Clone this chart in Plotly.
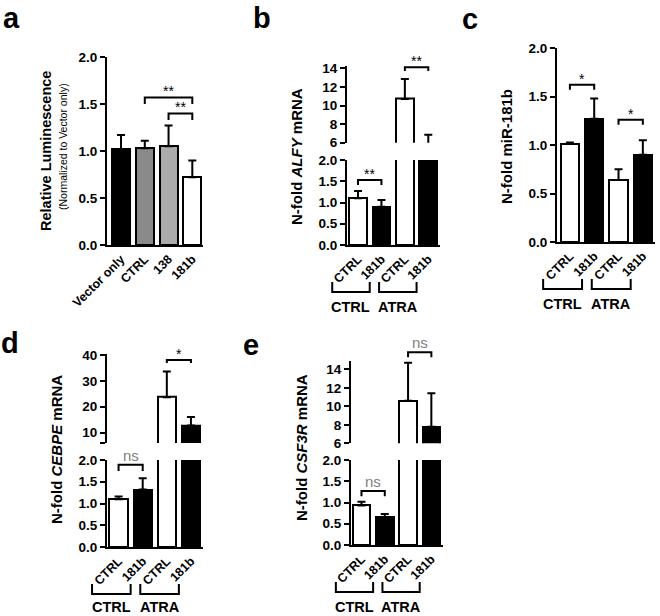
import plotly.graph_objects as go

W, H = 660, 616
FONT = "Liberation Sans"

# ---------------- data ----------------
a_labels = ["Vector only", "CTRL", "138", "181b"]
a_vals = [1.02, 1.03, 1.05, 0.72]
a_errs = [0.15, 0.08, 0.22, 0.18]
a_fill = ["#000000", "#8a8a8a", "#ababab", "#ffffff"]

pair_labels = ["CTRL", "181b", "CTRL", "181b"]
pair_fill = ["#ffffff", "#000000", "#ffffff", "#000000"]
group_labels = ["CTRL", "ATRA"]

b_vals = [1.10, 0.90, 10.7, 5.0]
b_errs = [0.17, 0.16, 2.15, 1.85]

c_vals = [1.01, 1.27, 0.64, 0.90]
c_errs = [0.015, 0.21, 0.11, 0.15]

d_vals = [1.10, 1.32, 23.7, 12.8]
d_errs = [0.06, 0.26, 9.9, 3.2]

e_vals = [0.93, 0.66, 10.6, 7.8]
e_errs = [0.09, 0.07, 4.1, 3.6]

lower_ticks = [0, 0.5, 1.0, 1.5, 2.0]
lower_text = ["0.0", "0.5", "1.0", "1.5", "2.0"]
b_upper_ticks = [6, 8, 10, 12, 14]
d_upper_ticks = [6, 10, 20, 30, 40]
d_upper_text = ["", "10", "20", "30", "40"]
e_upper_ticks = [6, 8, 10, 12, 14]

# ---------------- geometry helpers (pixel -> paper) ----------------
def dx(x0, x1):
    return [x0 / W, x1 / W]

def dy(top, bottom):
    return [1 - bottom / H, 1 - top / H]

def P(xpx, ypx):
    return xpx / W, 1 - ypx / H

# panel layout (pixels)
PAN = {
    "a": dict(x=(107, 203), xr=[-0.59, 3.45], y=[((57, 245), [0, 2.0])]),
    "b": dict(x=(347, 440), xr=[-0.47, 3.5], y=[((160, 245), [0, 2.0]), ((65.5, 142.7), [6, 14.3])]),
    "c": dict(x=(557, 655), xr=[-0.53, 3.5], y=[((48, 242), [0, 2.0])]),
    "d": dict(x=(107, 203), xr=[-0.48, 3.5], y=[((460, 547), [0, 2.0]), ((353.7, 443), [6, 40.5])]),
    "e": dict(x=(351, 443), xr=[-0.45, 3.5], y=[((460, 545), [0, 2.0]), ((361, 443.3), [6, 14.9])]),
}

def xp(pan, v):
    (x0, x1), r = PAN[pan]["x"], PAN[pan]["xr"]
    return (x0 + (v - r[0]) / (r[1] - r[0]) * (x1 - x0)) / W

def yp(pan, seg, v):
    (top, bot), r = PAN[pan]["y"][seg]
    ypx = bot - (v - r[0]) / (r[1] - r[0]) * (bot - top)
    return 1 - ypx / H

fig = go.Figure()
shapes = []
annos = []

axis_font = dict(family=FONT, size=13.5, color="black", weight="bold")
xtick_font = dict(family=FONT, size=12.5, color="black", weight="bold")
yax_common = dict(showline=True, linecolor="black", linewidth=2, ticks="outside",
                  ticklen=5, tickwidth=2, tickcolor="black", showgrid=False,
                  zeroline=False, tickfont=axis_font, fixedrange=True, automargin=False)
xax_common = dict(showline=True, linecolor="black", linewidth=2, ticks="",
                  showgrid=False, zeroline=False, tickangle=-45,
                  tickfont=xtick_font, fixedrange=True, automargin=False)

def add_bars(vals, errs, fills, xa, ya):
    fig.add_trace(go.Bar(
        x=list(range(len(vals))), y=vals, width=0.76,
        marker=dict(color=fills, line=dict(color="black", width=2)),
        error_y=dict(type="data", symmetric=False, array=errs,
                     arrayminus=[0] * len(vals), color="black",
                     thickness=2, width=4),
        xaxis=xa, yaxis=ya, showlegend=False, hoverinfo="skip"))

def sig(pan, seg, i0, i1, ytop, yleg, text, gray=False):
    x0, x1 = xp(pan, i0), xp(pan, i1)
    yt, yl = yp(pan, seg, ytop), yp(pan, seg, yleg)
    shapes.append(dict(type="path", xref="paper", yref="paper",
                       path=f"M {x0},{yl} L {x0},{yt} L {x1},{yt} L {x1},{yl}",
                       line=dict(color="black", width=2)))
    if gray:
        annos.append(dict(x=(x0 + x1) / 2, y=yt, xref="paper", yref="paper",
                          text=text, showarrow=False, xanchor="center",
                          yanchor="bottom", yshift=-1,
                          font=dict(family=FONT, size=15, color="#808080")))
    else:
        annos.append(dict(x=(x0 + x1) / 2, y=yt, xref="paper", yref="paper",
                          text=text, showarrow=False, xanchor="center",
                          yanchor="bottom", yshift=-4,
                          font=dict(family=FONT, size=14, color="black")))

def groups(pan):
    bot = PAN[pan]["y"][0][0][1]
    for g, (i0, i1) in enumerate([(0, 1), (2, 3)]):
        x0, x1 = xp(pan, i0 - 1.1), xp(pan, i1 - 0.5)
        _, ytop = P(0, bot + 37)
        _, ybot = P(0, bot + 47)
        shapes.append(dict(type="path", xref="paper", yref="paper",
                           path=f"M {x0},{ytop} L {x0},{ybot} L {x1},{ybot} L {x1},{ytop}",
                           line=dict(color="black", width=2)))
        _, yt = P(0, min(bot + 62, 607))
        annos.append(dict(x=(x0 + x1) / 2, y=yt, xref="paper", yref="paper",
                          text=f"<b>{group_labels[g]}</b>", showarrow=False,
                          xanchor="center", yanchor="middle",
                          font=dict(family=FONT, size=14.5, color="black")))

def ytitle(xpx, ypx, text, size=13):
    x, y = P(xpx, ypx)
    annos.append(dict(x=x, y=y, xref="paper", yref="paper", text=text,
                      textangle=-90, showarrow=False, xanchor="center", yanchor="middle",
                      font=dict(family=FONT, size=size, color="black")))

def letter(xpx, ypx, t):
    x, y = P(xpx, ypx)
    annos.append(dict(x=x, y=y, xref="paper", yref="paper", text=f"<b>{t}</b>",
                      showarrow=False, xanchor="left", yanchor="top",
                      font=dict(family=FONT, size=29, color="black")))

layout = {}

# ---- panel a ----
add_bars(a_vals, a_errs, a_fill, "x", "y")
layout["xaxis"] = dict(xax_common, domain=dx(*PAN["a"]["x"]), range=PAN["a"]["xr"],
                       anchor="y", tickvals=list(range(4)), ticktext=a_labels)
layout["yaxis"] = dict(yax_common, domain=dy(*PAN["a"]["y"][0][0]), range=PAN["a"]["y"][0][1],
                       anchor="x", tickvals=lower_ticks, ticktext=lower_text)
sig("a", 0, 1, 3, 1.57, 1.50, "**")
sig("a", 0, 2, 3, 1.40, 1.33, "**")
ytitle(46, 151, "<b>Relative Luminescence</b>", 14.5)
ytitle(63, 147, "(Normalized to Vector only)", 10.5)

# ---- panel b ----
add_bars(b_vals, b_errs, pair_fill, "x2", "y2")
add_bars(b_vals, b_errs, pair_fill, "x2", "y3")
layout["xaxis2"] = dict(xax_common, domain=dx(*PAN["b"]["x"]), range=PAN["b"]["xr"],
                        anchor="y2", tickvals=list(range(4)), ticktext=pair_labels)
layout["yaxis2"] = dict(yax_common, domain=dy(*PAN["b"]["y"][0][0]), range=PAN["b"]["y"][0][1],
                        anchor="x2", tickvals=lower_ticks, ticktext=lower_text)
layout["yaxis3"] = dict(yax_common, domain=dy(*PAN["b"]["y"][1][0]), range=PAN["b"]["y"][1][1],
                        anchor="x2", tickvals=b_upper_ticks)
sig("b", 0, 0, 1, 1.53, 1.41, "**")
sig("b", 1, 2, 3, 14.1, 13.7, "**")
groups("b")
ytitle(296, 157, "<b>N-fold <i>ALFY</i> mRNA</b>", 15)

# ---- panel c ----
add_bars(c_vals, c_errs, pair_fill, "x3", "y4")
layout["xaxis3"] = dict(xax_common, domain=dx(*PAN["c"]["x"]), range=PAN["c"]["xr"],
                        anchor="y4", tickvals=list(range(4)), ticktext=pair_labels)
layout["yaxis4"] = dict(yax_common, domain=dy(*PAN["c"]["y"][0][0]), range=PAN["c"]["y"][0][1],
                        anchor="x3", tickvals=lower_ticks, ticktext=lower_text)
sig("c", 0, 0, 1, 1.62, 1.57, "*")
sig("c", 0, 2, 3, 1.26, 1.21, "*")
groups("c")
ytitle(506, 147, "<b>N-fold miR-181b</b>", 15)

# ---- panel d ----
add_bars(d_vals, d_errs, pair_fill, "x4", "y5")
add_bars(d_vals, d_errs, pair_fill, "x4", "y6")
layout["xaxis4"] = dict(xax_common, domain=dx(*PAN["d"]["x"]), range=PAN["d"]["xr"],
                        anchor="y5", tickvals=list(range(4)), ticktext=pair_labels)
layout["yaxis5"] = dict(yax_common, domain=dy(*PAN["d"]["y"][0][0]), range=PAN["d"]["y"][0][1],
                        anchor="x4", tickvals=lower_ticks, ticktext=lower_text)
layout["yaxis6"] = dict(yax_common, domain=dy(*PAN["d"]["y"][1][0]), range=PAN["d"]["y"][1][1],
                        anchor="x4", tickvals=d_upper_ticks, ticktext=d_upper_text)
sig("d", 0, 0, 1, 1.89, 1.75, "ns", gray=True)
sig("d", 1, 2, 3, 38.1, 36.9, "*")
groups("d")
ytitle(56, 450, "<b>N-fold <i>CEBPE</i> mRNA</b>", 15)

# ---- panel e ----
add_bars(e_vals, e_errs, pair_fill, "x5", "y7")
add_bars(e_vals, e_errs, pair_fill, "x5", "y8")
layout["xaxis5"] = dict(xax_common, domain=dx(*PAN["e"]["x"]), range=PAN["e"]["xr"],
                        anchor="y7", tickvals=list(range(4)), ticktext=pair_labels)
layout["yaxis7"] = dict(yax_common, domain=dy(*PAN["e"]["y"][0][0]), range=PAN["e"]["y"][0][1],
                        anchor="x5", tickvals=lower_ticks, ticktext=lower_text)
layout["yaxis8"] = dict(yax_common, domain=dy(*PAN["e"]["y"][1][0]), range=PAN["e"]["y"][1][1],
                        anchor="x5", tickvals=e_upper_ticks)
sig("e", 0, 0, 1, 1.27, 1.15, "ns", gray=True)
sig("e", 1, 2, 3, 15.84, 15.3, "ns", gray=True)
groups("e")
ytitle(301, 448, "<b>N-fold <i>CSF3R</i> mRNA</b>", 15)

# ---- panel letters ----
letter(1, 0, "a")
letter(251, 0, "b")
letter(460, 1, "c")
letter(-1, 325, "d")
letter(241, 327, "e")

fig.update_layout(template="none", width=W, height=H, margin=dict(l=0, r=0, t=0, b=0),
                  paper_bgcolor="white", plot_bgcolor="white",
                  shapes=shapes, annotations=annos, bargap=0,
                  font=dict(family=FONT, color="black"), **layout)

fig.write_html("out.html", config={"displayModeBar": False},
               post_script="document.body.style.margin='0px';document.body.style.overflow='hidden';")
